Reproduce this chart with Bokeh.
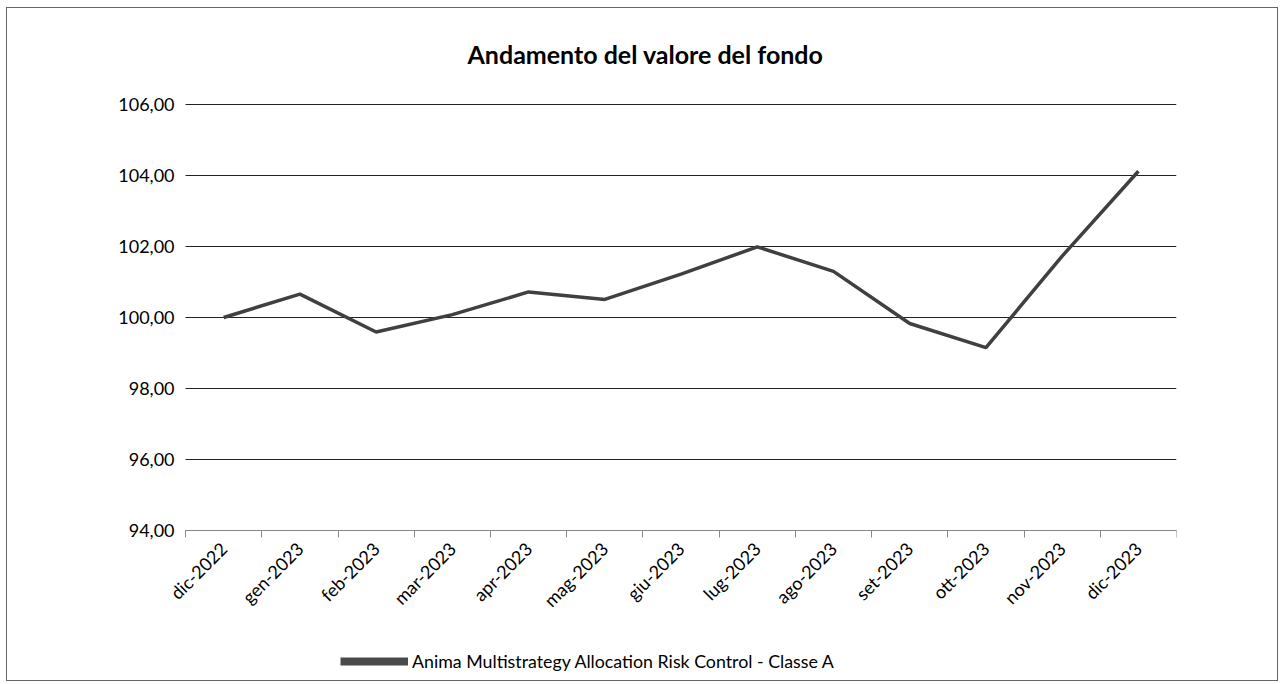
import numpy as np
from bokeh.plotting import figure
from bokeh.models import Range1d, FixedTicker, Legend, LegendItem, Title
from bokeh.embed import file_html
from bokeh.resources import INLINE

categories = ["dic-2022", "gen-2023", "feb-2023", "mar-2023", "apr-2023", "mag-2023",
              "giu-2023", "lug-2023", "ago-2023", "set-2023", "ott-2023", "nov-2023", "dic-2023"]
values = [100.00, 100.66, 99.59, 100.08, 100.72, 100.51, 101.22, 101.99, 101.30, 99.83, 99.15, 101.73, 104.12]
y_ticks = [94, 96, 98, 100, 102, 104, 106]
y_tick_labels = ["94,00", "96,00", "98,00", "100,00", "102,00", "104,00", "106,00"]
series_name = "Anima Multistrategy Allocation Risk Control - Classe A"
title_text = "Andamento del valore del fondo"

FONT = "Lato"
n = len(categories)
x = np.arange(n) + 0.5

# layout (page pixels): plot area x 185..1175.6, value 94 at y 530, 106 at y 104
Y_MIN, Y_MAX = y_ticks[0], y_ticks[-1]
py_per_unit = (530 - 104) / (Y_MAX - Y_MIN)
y_end = Y_MAX + (104 - 88) / py_per_unit
y_start = Y_MIN - (678 - 530) / py_per_unit
px_per_cat = (1175.6 - 185) / n
x_start = -(185 - 8) / px_per_cat

p = figure(width=1272, height=674, output_backend="svg", toolbar_location=None,
           x_range=Range1d(x_start, n), y_range=Range1d(y_start, y_end),
           min_border_left=1, min_border_right=103, min_border_top=80, min_border_bottom=4)
p.styles = {"border": "1px solid #666666", "margin-left": "6px", "margin-top": "7px"}
p.outline_line_color = None
p.background_fill_color = "white"

# y axis drawn at x = 0
p.yaxis.fixed_location = 0
p.yaxis.bounds = (Y_MIN, Y_MAX)
p.yaxis.ticker = FixedTicker(ticks=y_ticks)
p.yaxis.major_label_overrides = {t: l for t, l in zip(y_ticks, y_tick_labels)}
p.yaxis.axis_line_color = None
p.yaxis.major_tick_line_color = None
p.yaxis.minor_tick_line_color = None
p.yaxis.major_tick_out = 0
p.yaxis.major_tick_in = 0
p.yaxis.major_label_standoff = 11
p.yaxis.major_label_text_font = FONT
p.yaxis.major_label_text_font_size = "18px"
p.yaxis.major_label_text_color = "#000000"

# x axis drawn at value 94: labels at category centres, ticks at boundaries
p.xaxis.fixed_location = Y_MIN
p.xaxis.bounds = (0, n)
p.xaxis.ticker = FixedTicker(ticks=list(x), minor_ticks=list(range(n + 1)))
p.xaxis.major_label_overrides = {float(xx): c for xx, c in zip(x, categories)}
p.xaxis.major_tick_out = 0
p.xaxis.major_tick_in = 0
p.xaxis.minor_tick_out = 7
p.xaxis.minor_tick_in = 0
p.xaxis.minor_tick_line_color = "#888888"
p.xaxis.axis_line_color = "#888888"
p.xaxis.major_label_orientation = np.pi / 4
p.xaxis.major_label_standoff = 8
p.xaxis.major_label_text_font = FONT
p.xaxis.major_label_text_font_size = "18px"
p.xaxis.major_label_text_color = "#000000"

p.xgrid.grid_line_color = None
p.ygrid.ticker = FixedTicker(ticks=y_ticks)
p.ygrid.cross_bounds = (0, n)
p.ygrid.grid_line_color = "#222222"
p.ygrid.grid_line_width = 1

r = p.line(x, values, line_color="#404040", line_width=3.5)
r_leg = p.line(x, values, line_color="#4a4a4a", line_width=8, visible=False)

legend = Legend(items=[LegendItem(label=series_name, renderers=[r_leg])],
                location=(332, 6), orientation="horizontal",
                glyph_width=68, glyph_height=20, label_standoff=4,
                padding=0, margin=0, border_line_color=None, background_fill_alpha=0,
                label_text_font=FONT, label_text_font_size="17.8px", label_text_color="#000000")
p.add_layout(legend, "center")

p.add_layout(Title(text=title_text, align="left", offset=459, standoff=39,
                   text_font=FONT, text_font_style="bold", text_font_size="25px",
                   text_color="#000000"), "above")

open("out.html", "w").write(file_html(p, INLINE))
